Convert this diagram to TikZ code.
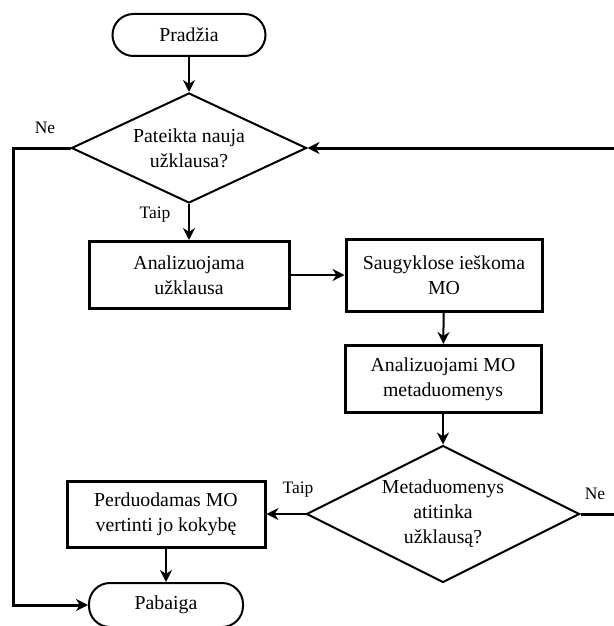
\documentclass[tikz,border=0pt]{standalone}
\usepackage{fontspec}
\setmainfont{Liberation Serif}
\usetikzlibrary{arrows.meta, shapes.geometric}

\begin{document}
\begin{tikzpicture}[x=1pt, y=-1pt, font=\fontsize{19.8}{25}\selectfont,
  term/.style={draw, line width=2pt, rounded corners=21pt, minimum width=153pt, minimum height=42pt},
  proc/.style={draw, line width=3pt, minimum width=200pt, minimum height=67pt, align=center},
  dec/.style={draw, diamond, line width=2pt, aspect=2, inner sep=0pt, align=center},
  flow/.style={line width=2pt, -{Stealth[length=12pt, width=12pt]}},
  loopline/.style={line width=3pt},
  lbl/.style={font=\fontsize{17.5}{19}\selectfont}]
  \useasboundingbox (0,0) rectangle (613,626);
  % start and first question
  \node[term] (start) at (189,35) {Pradžia};
  \node[dec, minimum width=235pt, minimum height=110pt] (ask) at (189,148) {Pateikta nauja\\užklausa?};
  % processing steps
  \node[proc] (parse) at (189,275) {Analizuojama\\užklausa};
  \node[proc, minimum width=196pt, minimum height=72pt] (search) at (444,275) {Saugyklose ieškoma\\MO};
  \node[proc, minimum width=196pt] (meta) at (443,379) {Analizuojami MO\\metaduomenys};
  \node[dec, minimum width=273pt, minimum height=137pt] (match) at (443,514) {Metaduomenys\\atitinka\\užklausą?};
  \node[proc, minimum width=198pt, minimum height=66pt] (pass) at (166,514) {Perduodamas MO\\vertinti jo kokybę};
  \node[term, minimum width=154pt, minimum height=44pt] (stop) at (166,605) {Pabaiga};
  % loop corners
  \coordinate (lt) at (13,148);
  \coordinate (rt) at (624,148);
  % connectors
  \draw[flow] (start) -- (ask);
  \draw[flow] (ask) -- (parse);
  \node[lbl] at (155,215) {Taip};
  \draw[flow, line width=1.5pt] (parse) -- (search);
  \draw[flow] (search) -- (meta);
  \draw[flow] (meta) -- (match);
  \draw[flow] (match.west) -- (pass.east);
  \node[lbl] at (298,490) {Taip};
  \draw[flow] (pass) -- (stop);
  \draw[loopline, -{Stealth[length=12pt, width=12pt]}] (ask.west) -- (lt) |- (stop.west);
  \node[lbl] at (45,128) {Ne};
  \draw[loopline, -{Stealth[length=12pt, width=12pt]}] (match.east) -| (rt) -- (ask.east);
  \node[lbl] at (595,494) {Ne};
\end{tikzpicture}
\end{document}
